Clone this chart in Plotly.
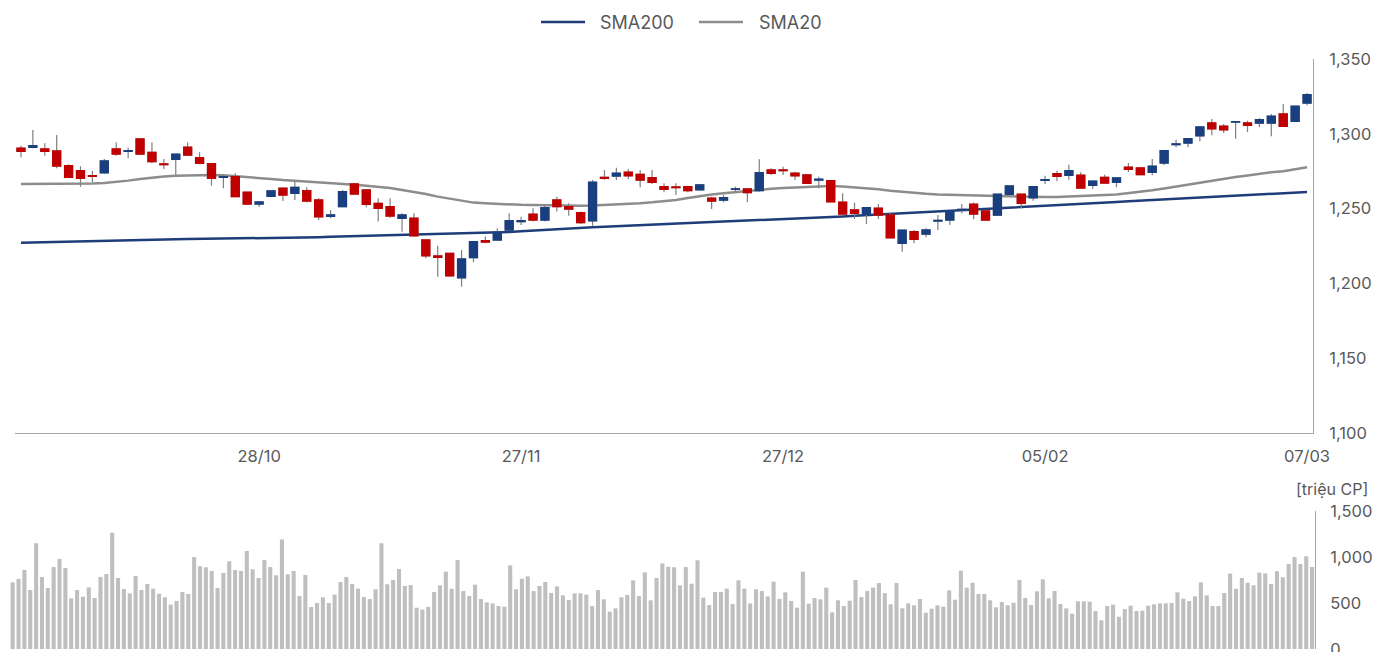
import plotly.graph_objects as go

# ---- data -------------------------------------------------------------
candle_index = list(range(109))
tick_index = [20, 42, 64, 86, 108]
tick_labels = ["28/10", "27/11", "27/12", "05/02", "07/03"]
series_names = ["SMA200", "SMA20"]
volume_unit = "[triệu CP]"

open_ = [1290.3, 1291.0, 1289.8, 1288.5, 1278.7, 1275.3, 1272.0, 1274.0, 1289.8, 1288.3,
         1296.5, 1287.6, 1279.8, 1283.0, 1291.0, 1284.0, 1280.0, 1270.9, 1271.3, 1260.9,
         1253.1, 1258.2, 1263.6, 1260.2, 1262.0, 1255.7, 1244.9, 1251.3, 1266.4, 1262.4,
         1253.5, 1251.3, 1243.5, 1243.5, 1229.0, 1218.3, 1220.1, 1203.8, 1217.2, 1228.5,
         1229.0, 1235.7, 1241.3, 1246.2, 1242.4, 1255.7, 1251.3, 1247.3, 1241.9, 1270.9,
         1271.8, 1274.3, 1272.9, 1270.7, 1264.7, 1264.4, 1264.7, 1262.6, 1256.9, 1255.7,
         1262.9, 1263.1, 1262.0, 1275.8, 1275.8, 1273.6, 1272.5, 1269.1, 1268.7, 1254.2,
         1249.1, 1246.2, 1250.2, 1245.7, 1226.8, 1234.6, 1233.0, 1241.7, 1242.4, 1249.1,
         1252.9, 1248.4, 1245.7, 1259.6, 1259.6, 1257.3, 1268.9, 1273.3, 1272.3, 1272.3,
         1265.6, 1270.9, 1267.6, 1277.6, 1277.1, 1274.3, 1280.5, 1292.8, 1293.9, 1298.7,
         1307.2, 1305.0, 1307.9, 1307.2, 1307.2, 1307.2, 1313.2, 1308.4, 1320.6]
high = [1292.0, 1302.5, 1293.6, 1299.2, 1279.6, 1278.3, 1275.3, 1283.2, 1294.3, 1290.7,
        1297.0, 1294.3, 1283.2, 1286.3, 1294.3, 1287.6, 1280.0, 1272.5, 1273.6, 1260.9,
        1255.1, 1262.2, 1263.6, 1268.0, 1264.2, 1256.9, 1249.1, 1262.4, 1266.9, 1262.4,
        1256.9, 1256.9, 1246.9, 1246.9, 1229.0, 1225.2, 1220.1, 1222.3, 1227.9, 1231.4,
        1236.8, 1246.9, 1244.6, 1250.2, 1252.4, 1258.0, 1253.5, 1248.0, 1269.1, 1275.8,
        1277.3, 1276.5, 1275.8, 1275.8, 1266.9, 1266.9, 1265.3, 1266.4, 1258.0, 1259.1,
        1264.7, 1263.6, 1283.0, 1276.9, 1278.0, 1274.7, 1272.5, 1271.3, 1269.1, 1260.2,
        1254.0, 1250.6, 1253.1, 1247.3, 1235.5, 1235.7, 1236.8, 1245.7, 1249.1, 1253.1,
        1254.0, 1249.1, 1259.6, 1265.1, 1259.6, 1264.7, 1272.0, 1275.3, 1279.3, 1274.3,
        1268.3, 1272.7, 1270.5, 1280.5, 1277.6, 1283.2, 1288.7, 1296.1, 1297.2, 1304.5,
        1309.9, 1306.6, 1308.1, 1308.8, 1310.6, 1313.2, 1319.9, 1318.4, 1327.3]
low = [1284.3, 1290.3, 1285.4, 1276.9, 1270.3, 1264.6, 1267.6, 1273.3, 1285.4, 1283.6,
       1285.8, 1280.3, 1276.5, 1272.5, 1285.4, 1279.6, 1265.3, 1263.6, 1257.6, 1252.4,
       1251.1, 1257.8, 1255.1, 1255.7, 1254.2, 1242.4, 1243.5, 1250.9, 1259.6, 1250.9,
       1241.3, 1243.9, 1234.6, 1231.2, 1216.8, 1204.5, 1204.5, 1197.8, 1214.1, 1226.8,
       1228.6, 1235.2, 1239.0, 1241.3, 1241.3, 1248.0, 1245.3, 1239.7, 1238.6, 1269.1,
       1269.1, 1269.8, 1264.2, 1266.4, 1260.9, 1259.1, 1260.9, 1262.0, 1249.7, 1254.2,
       1261.3, 1254.2, 1261.3, 1272.5, 1272.5, 1269.1, 1266.4, 1263.6, 1254.2, 1245.0,
       1243.0, 1239.7, 1243.0, 1230.1, 1221.2, 1226.8, 1230.8, 1235.7, 1239.0, 1246.9,
       1242.8, 1241.9, 1245.0, 1259.1, 1250.2, 1255.3, 1266.4, 1268.3, 1269.3, 1263.3,
       1263.3, 1266.6, 1264.2, 1274.5, 1272.3, 1272.3, 1278.9, 1291.0, 1291.0, 1295.0,
       1299.0, 1300.5, 1296.7, 1301.2, 1304.3, 1298.3, 1305.0, 1308.4, 1319.1]
close = [1288.3, 1292.0, 1288.3, 1278.5, 1270.9, 1270.3, 1271.6, 1281.8, 1286.5, 1288.7,
         1286.5, 1281.4, 1279.4, 1286.3, 1285.8, 1280.3, 1270.3, 1271.3, 1258.0, 1253.1,
         1254.4, 1261.8, 1259.1, 1264.2, 1255.1, 1244.6, 1245.7, 1261.3, 1259.8, 1252.9,
         1250.2, 1245.1, 1245.7, 1231.9, 1218.5, 1217.5, 1205.1, 1216.3, 1227.9, 1227.7,
         1234.2, 1241.9, 1241.9, 1242.4, 1250.6, 1251.3, 1249.7, 1240.6, 1267.6, 1270.3,
         1273.6, 1272.0, 1269.1, 1267.6, 1262.9, 1264.0, 1262.0, 1265.8, 1255.1, 1257.3,
         1263.2, 1260.7, 1274.0, 1273.6, 1275.4, 1272.0, 1266.9, 1269.6, 1254.6, 1246.4,
         1246.9, 1250.6, 1245.7, 1230.5, 1235.5, 1229.5, 1235.7, 1242.1, 1248.6, 1249.5,
         1246.4, 1242.4, 1259.6, 1265.1, 1253.5, 1264.7, 1269.3, 1271.6, 1275.3, 1263.8,
         1268.3, 1267.1, 1270.5, 1276.3, 1272.7, 1278.3, 1288.7, 1293.2, 1296.7, 1304.5,
         1303.4, 1302.7, 1308.1, 1305.7, 1309.4, 1311.7, 1305.0, 1318.4, 1326.1]

sma200 = [1227.2, 1227.4, 1227.6, 1227.8, 1228.1, 1228.3, 1228.5, 1228.7, 1228.9, 1229.0,
          1229.2, 1229.3, 1229.4, 1229.5, 1229.6, 1229.7, 1229.8, 1229.8, 1229.9, 1229.9,
          1230.0, 1230.2, 1230.4, 1230.5, 1230.7, 1230.9, 1231.1, 1231.3, 1231.6, 1231.8,
          1232.0, 1232.2, 1232.4, 1232.6, 1232.8, 1233.0, 1233.2, 1233.4, 1233.6, 1233.8,
          1234.0, 1234.4, 1234.9, 1235.4, 1235.8, 1236.3, 1236.7, 1237.1, 1237.5, 1237.9,
          1238.3, 1238.7, 1239.1, 1239.5, 1239.9, 1240.3, 1240.6, 1240.8, 1241.1, 1241.3,
          1241.6, 1241.9, 1242.3, 1242.6, 1242.9, 1243.2, 1243.6, 1244.0, 1244.4, 1244.8,
          1245.2, 1245.6, 1246.0, 1246.3, 1246.7, 1247.1, 1247.5, 1248.0, 1248.4, 1248.9,
          1249.3, 1249.7, 1250.0, 1250.4, 1250.7, 1251.1, 1251.6, 1252.1, 1252.5, 1253.0,
          1253.5, 1254.0, 1254.4, 1254.9, 1255.3, 1255.8, 1256.2, 1256.6, 1257.1, 1257.5,
          1257.9, 1258.3, 1258.7, 1259.1, 1259.5, 1259.9, 1260.3, 1260.7, 1261.1]
sma20 = [1266.4, 1266.4, 1266.5, 1266.5, 1266.6, 1266.7, 1266.8, 1267.1, 1267.8, 1268.7,
         1269.8, 1270.7, 1271.4, 1271.9, 1272.2, 1272.4, 1272.5, 1272.3, 1271.8, 1271.1,
         1270.4, 1269.8, 1269.1, 1268.6, 1268.1, 1267.7, 1267.2, 1266.6, 1266.0, 1265.2,
         1264.5, 1263.8, 1262.5, 1261.3, 1259.8, 1258.0, 1256.6, 1255.5, 1254.0, 1253.5,
         1253.0, 1252.7, 1252.5, 1252.4, 1252.2, 1252.0, 1251.9, 1251.9, 1252.0, 1252.3,
         1252.6, 1253.0, 1253.6, 1254.2, 1254.8, 1255.8, 1257.1, 1258.4, 1259.5, 1260.3,
         1261.1, 1261.9, 1262.6, 1263.2, 1263.7, 1264.1, 1264.4, 1264.9, 1265.1, 1264.8,
         1264.3, 1263.7, 1263.0, 1262.0, 1261.2, 1260.5, 1259.9, 1259.4, 1259.2, 1259.0,
         1258.8, 1258.6, 1258.3, 1258.0, 1257.7, 1257.6, 1257.7, 1257.8, 1258.0, 1258.3,
         1258.7, 1259.1, 1259.4, 1260.2, 1261.1, 1262.2, 1263.5, 1264.8, 1266.1, 1267.6,
         1268.9, 1270.0, 1271.1, 1272.2, 1273.4, 1274.3, 1275.0, 1276.4, 1277.6]

volume = [725, 761, 859, 641, 1149, 783, 663, 891, 978, 880,
          551, 641, 569, 670, 554, 783, 815, 1264, 772, 652,
          605, 793, 641, 707, 656, 601, 562, 482, 522, 620,
          598, 1000, 899, 888, 848, 663, 826, 953, 859, 848,
          1065, 866, 772, 967, 891, 801, 1192, 812, 848, 576,
          804, 457, 500, 562, 500, 591, 728, 783, 707, 656,
          565, 543, 649, 1149, 703, 750, 870, 685, 696, 449,
          428, 457, 620, 692, 841, 656, 967, 630, 576, 699,
          543, 507, 496, 467, 460, 909, 649, 764, 790, 630,
          685, 728, 609, 681, 583, 533, 605, 605, 591, 467,
          641, 540, 406, 442, 562, 587, 746, 576, 833, 529,
          772, 931, 895, 888, 692, 891, 710, 964, 558, 478,
          620, 620, 656, 489, 746, 656, 496, 649, 630, 572,
          732, 543, 616, 522, 449, 841, 493, 554, 540, 667,
          399, 529, 467, 525, 750, 565, 630, 667, 717, 609,
          486, 717, 442, 496, 475, 543, 395, 438, 475, 460,
          638, 536, 851, 667, 721, 598, 598, 529, 453, 511,
          475, 503, 750, 554, 478, 627, 757, 551, 630, 489,
          442, 384, 518, 518, 514, 413, 312, 467, 482, 351,
          435, 471, 413, 416, 471, 486, 496, 496, 500, 616,
          547, 522, 572, 725, 583, 467, 467, 609, 819, 656,
          772, 721, 692, 830, 822, 707, 845, 779, 924, 1000,
          924, 1008, 891]
volume_index = list(range(len(volume)))

# ---- styles -----------------------------------------------------------
RED = "#c00000"
BLUE = "#1a3f80"
WICK = "#808080"
NAVY = "#1f3d7a"
GREY_LINE = "#8c8c8c"
VOL = "#bfbfbf"
TXT = "#595959"
AXIS = "#a6a6a6"
FONT = "Inter"

body_high = [max(o, c) for o, c in zip(open_, close)]
body_low = [min(o, c) for o, c in zip(open_, close)]

fig = go.Figure()

# moving averages (base axis, drawn below the candles)
fig.add_trace(go.Scatter(x=candle_index, y=sma200, mode="lines", name=series_names[0],
                         line=dict(color=NAVY, width=2.5), xaxis="x", yaxis="y",
                         showlegend=False))
fig.add_trace(go.Scatter(x=candle_index, y=sma20, mode="lines", name=series_names[1],
                         line=dict(color=GREY_LINE, width=2.5), xaxis="x", yaxis="y",
                         showlegend=False))

# wicks
fig.add_trace(go.Candlestick(
    x=candle_index, open=open_, high=high, low=low, close=close,
    increasing=dict(line=dict(color=WICK, width=1.2), fillcolor="rgba(0,0,0,0)"),
    decreasing=dict(line=dict(color=WICK, width=1.2), fillcolor="rgba(0,0,0,0)"),
    whiskerwidth=0, showlegend=False, hoverinfo="skip", xaxis="x", yaxis="y3"))
# bodies
fig.add_trace(go.Candlestick(
    x=candle_index, open=open_, high=body_high, low=body_low, close=close,
    increasing=dict(line=dict(color=BLUE, width=1.4), fillcolor=BLUE),
    decreasing=dict(line=dict(color=RED, width=1.4), fillcolor=RED),
    whiskerwidth=0, showlegend=False, xaxis="x", yaxis="y3"))

# volume
fig.add_trace(go.Bar(x=volume_index, y=volume, marker=dict(color=VOL, line=dict(width=0)),
                     showlegend=False, xaxis="x2", yaxis="y2"))

W, H = 1373, 652
L, R = 10, 58
pw = W - L - R

def px_x(x):
    return (x - L) / pw

def py(y_px):
    return 1 - y_px / H

main_dom = [py(433), py(59)]
vol_dom = [py(649), py(511)]

# legend drawn as line samples + labels
legend_items = [(series_names[0], NAVY, 541, 585, 598),
                (series_names[1], GREY_LINE, 699, 743, 757)]
shapes, annotations = [], []
for name, color, x0, x1, xt in legend_items:
    shapes.append(dict(type="line", xref="paper", yref="paper",
                       x0=px_x(x0), x1=px_x(x1), y0=py(22), y1=py(22),
                       line=dict(color=color, width=2.5)))
    annotations.append(dict(text=name, xref="paper", yref="paper", x=px_x(xt), y=py(22),
                            xanchor="left", yanchor="middle", showarrow=False,
                            font=dict(size=18, color=TXT)))
annotations.append(dict(text=volume_unit, xref="paper", yref="paper",
                        x=px_x(1370), y=py(489), xanchor="right", yanchor="middle",
                        showarrow=False, font=dict(size=16, color=TXT)))

fig.update_layout(
    width=W, height=H,
    margin=dict(l=L, r=R, t=0, b=0, autoexpand=False),
    paper_bgcolor="white", plot_bgcolor="white",
    font=dict(family=FONT, size=16.5, color=TXT),
    boxmode="overlay", boxgap=0.05,
    bargap=0.3,
    showlegend=False,
    xaxis=dict(domain=[px_x(15), px_x(1313)], range=[-0.5, 108.5],
               tickmode="array", tickvals=tick_index, ticktext=tick_labels,
               tickfont=dict(size=16.5),
               showgrid=False, zeroline=False, showline=True, linecolor=AXIS,
               linewidth=1, ticks="", ticklabelstandoff=8, anchor="y",
               rangeslider=dict(visible=False), automargin=False),
    yaxis=dict(domain=main_dom, range=[1100, 1350], side="right", anchor="x",
               tickvals=[1100, 1150, 1200, 1250, 1300, 1350], tickformat=",d",
               showgrid=False, zeroline=False, showline=True, linecolor=AXIS,
               linewidth=1, ticks="", ticklabelstandoff=12, automargin=False,
               ticklabeloverflow="allow"),
    yaxis3=dict(domain=main_dom, range=[1100, 1350], overlaying="y", anchor="x",
                side="right", visible=False, showgrid=False, automargin=False),
    xaxis2=dict(domain=[0, 1], range=[-0.46, 222.5], anchor="y2",
                showgrid=False, zeroline=False, showline=False, showticklabels=False,
                ticks="", automargin=False),
    yaxis2=dict(domain=vol_dom, range=[0, 1500], side="right", anchor="x2",
                tickvals=[0, 500, 1000, 1500], tickformat=",d",
                showgrid=False, zeroline=False, showline=True, linecolor=AXIS,
                linewidth=1, ticks="", ticklabelstandoff=11, automargin=False,
                ticklabeloverflow="allow"),
    shapes=shapes,
    annotations=annotations,
)

fig.write_html(
    "out.html",
    config={"displayModeBar": False},
    post_script="document.body.style.margin='0';"
                "document.documentElement.style.overflow='hidden';"
                "document.body.style.overflow='hidden';",
)
